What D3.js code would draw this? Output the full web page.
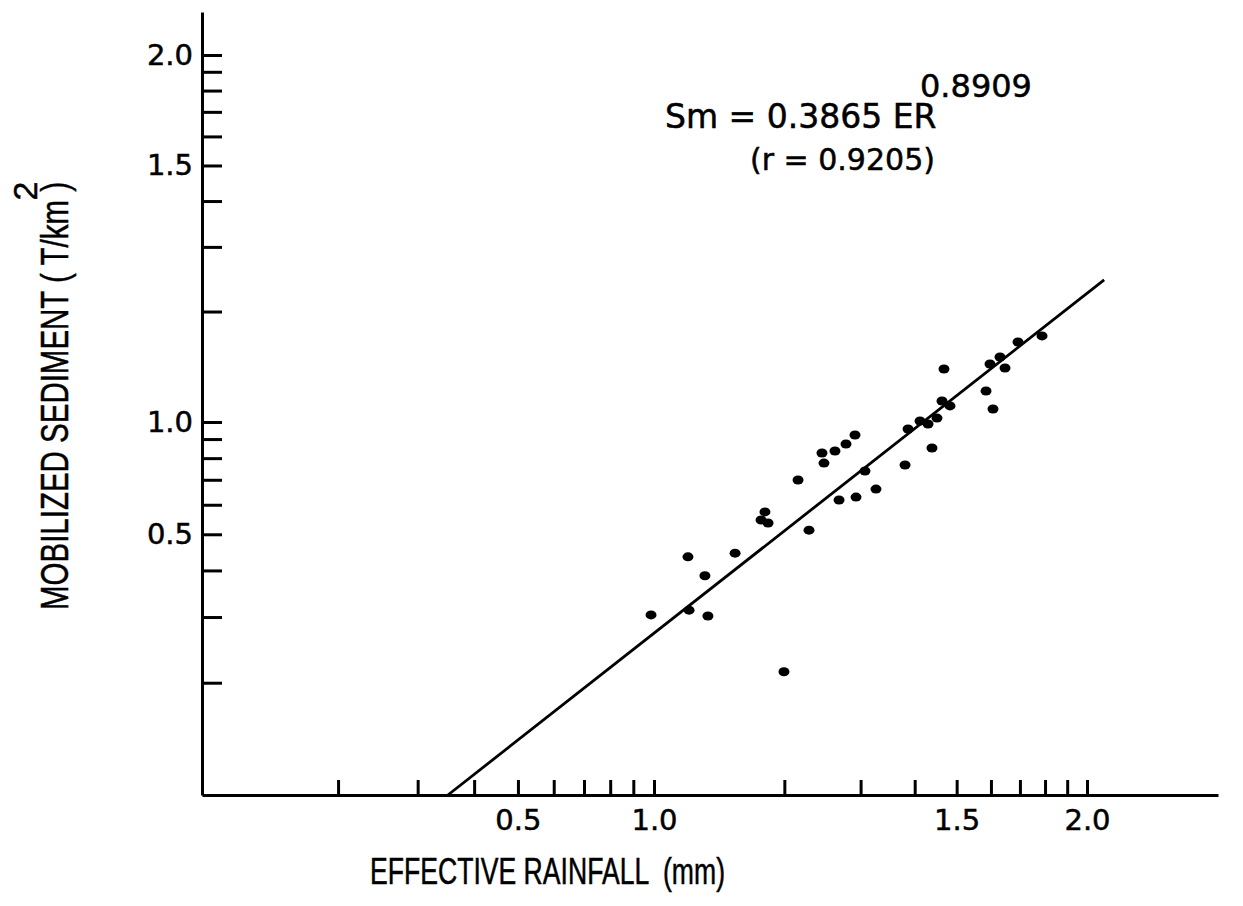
<!DOCTYPE html>
<html>
<head>
<meta charset="utf-8">
<script src="https://cdn.jsdelivr.net/npm/d3@7"></script>
<style>
  body { margin: 0; background: #fff; }
  svg { display: block; }
  text { fill: #000; stroke: #000; stroke-width: 0.5px; }
</style>
</head>
<body>
<div id="chart"></div>
<script>
var width = 1243;
var height = 906;

// effective rainfall (ER) and mobilized sediment (Sm)
var rainfall = [0.985, 1.198, 1.205, 1.311, 1.332, 1.539, 1.804, 1.767, 1.834, 1.996,
                2.151, 2.280, 2.443, 2.469, 2.618, 2.776, 2.912, 2.675, 2.928, 3.071,
                3.256, 3.800, 3.861, 4.115, 4.294, 4.504, 4.385, 4.674, 4.625, 4.826,
                5.845, 5.970, 6.296, 6.466, 6.066, 6.929, 7.873];
var sediment = [0.304, 0.435, 0.313, 0.387, 0.302, 0.445, 0.574, 0.546, 0.536, 0.214,
                0.699, 0.513, 0.826, 0.776, 0.836, 0.873, 0.923, 0.618, 0.629, 0.739,
                0.661, 0.767, 0.958, 1.006, 0.988, 1.025, 0.852, 1.394, 1.141, 1.106,
                1.215, 1.439, 1.504, 1.403, 1.085, 1.652, 1.716];

// regression line end points
var fitER = [0.35, 10.95];
var fitSm = [0.1, 2.44];

var xTicks = [0.2, 0.3, 0.4, 0.5, 0.6, 0.7, 0.8, 0.9, 1, 2, 3, 4, 5, 6, 7, 8, 9, 10];
var yTicks = [0.2, 0.3, 0.4, 0.5, 0.6, 0.7, 0.8, 0.9, 1, 2, 3, 4, 5, 6, 7, 8, 9, 10];
var tickText = {0.5: "0.5", 1: "1.0", 5: "1.5", 10: "2.0"};

var points = rainfall.map(function(d, i) { return {er: d, sm: sediment[i]}; });

var svg = d3.select("#chart")
            .append("svg")
            .attr("width", width)
            .attr("height", height);

// log scales, one range stop per decade (the scanned decades are not equal)
var x = d3.scaleLog()
          .domain([0.1, 1, 10, 20])
          .range([202, 654, 1087, 1218]);

var y = d3.scaleLog()
          .domain([0.1, 1, 10, 13])
          .range([795, 422, 55, 12]);

function label(d) { return tickText[d] || ""; }

svg.append("g")
   .attr("transform", "translate(0," + y(0.1) + ")")
   .call(d3.axisBottom(x)
           .tickValues(xTicks)
           .tickFormat(label)
           .tickSizeInner(-15)
           .tickSizeOuter(0)
           .tickPadding(14));

svg.append("g")
   .attr("transform", "translate(" + x(0.1) + ",0)")
   .call(d3.axisLeft(y)
           .tickValues(yTicks)
           .tickFormat(label)
           .tickSizeInner(-20)
           .tickSizeOuter(0)
           .tickPadding(9));

svg.selectAll(".domain")
   .attr("stroke", "#000")
   .attr("stroke-width", 3);
svg.selectAll(".tick line")
   .attr("stroke", "#000")
   .attr("stroke-width", 3);
svg.selectAll(".tick text")
   .attr("font-family", "DejaVu Sans")
   .attr("font-size", 29);

// the regression line
var line = d3.line()
             .x(function(d) { return x(d[0]); })
             .y(function(d) { return y(d[1]); });

svg.append("path")
   .datum(fitER.map(function(d, i) { return [d, fitSm[i]]; }))
   .attr("d", line)
   .attr("fill", "none")
   .attr("stroke", "#000")
   .attr("stroke-width", 2.8);

svg.append("g")
   .selectAll("ellipse")
   .data(points)
   .join("ellipse")
   .attr("cx", function(d) { return x(d.er); })
   .attr("cy", function(d) { return y(d.sm); })
   .attr("rx", 5.5)
   .attr("ry", 4.5)
   .attr("fill", "#000");

// equation
svg.append("text")
   .attr("x", 665)
   .attr("y", 128)
   .attr("font-family", "DejaVu Sans")
   .attr("font-size", 33)
   .text("Sm = 0.3865 ER");

svg.append("text")
   .attr("x", 920)
   .attr("y", 97)
   .attr("font-family", "DejaVu Sans")
   .attr("font-size", 32)
   .text("0.8909");

svg.append("text")
   .attr("x", 750)
   .attr("y", 170)
   .attr("font-family", "DejaVu Sans")
   .attr("font-size", 30)
   .text("(r = 0.9205)");

// axis titles
svg.append("text")
   .attr("x", 370)
   .attr("y", 884)
   .attr("font-family", "Liberation Sans")
   .attr("font-size", 36)
   .attr("textLength", 355)
   .attr("lengthAdjust", "spacingAndGlyphs")
   .style("white-space", "pre")
   .text("EFFECTIVE RAINFALL  (mm)");

svg.append("text")
   .attr("transform", "translate(68,396) rotate(-90)")
   .attr("text-anchor", "middle")
   .attr("font-family", "Liberation Sans")
   .attr("font-size", 38)
   .attr("textLength", 428)
   .attr("lengthAdjust", "spacingAndGlyphs")
   .style("white-space", "pre")
   .text("MOBILIZED SEDIMENT ( T/km )");

svg.append("text")
   .attr("transform", "translate(37,191) rotate(-90)")
   .attr("text-anchor", "middle")
   .attr("font-family", "Liberation Sans")
   .attr("font-size", 34)
   .text("2");
</script>
</body>
</html>
